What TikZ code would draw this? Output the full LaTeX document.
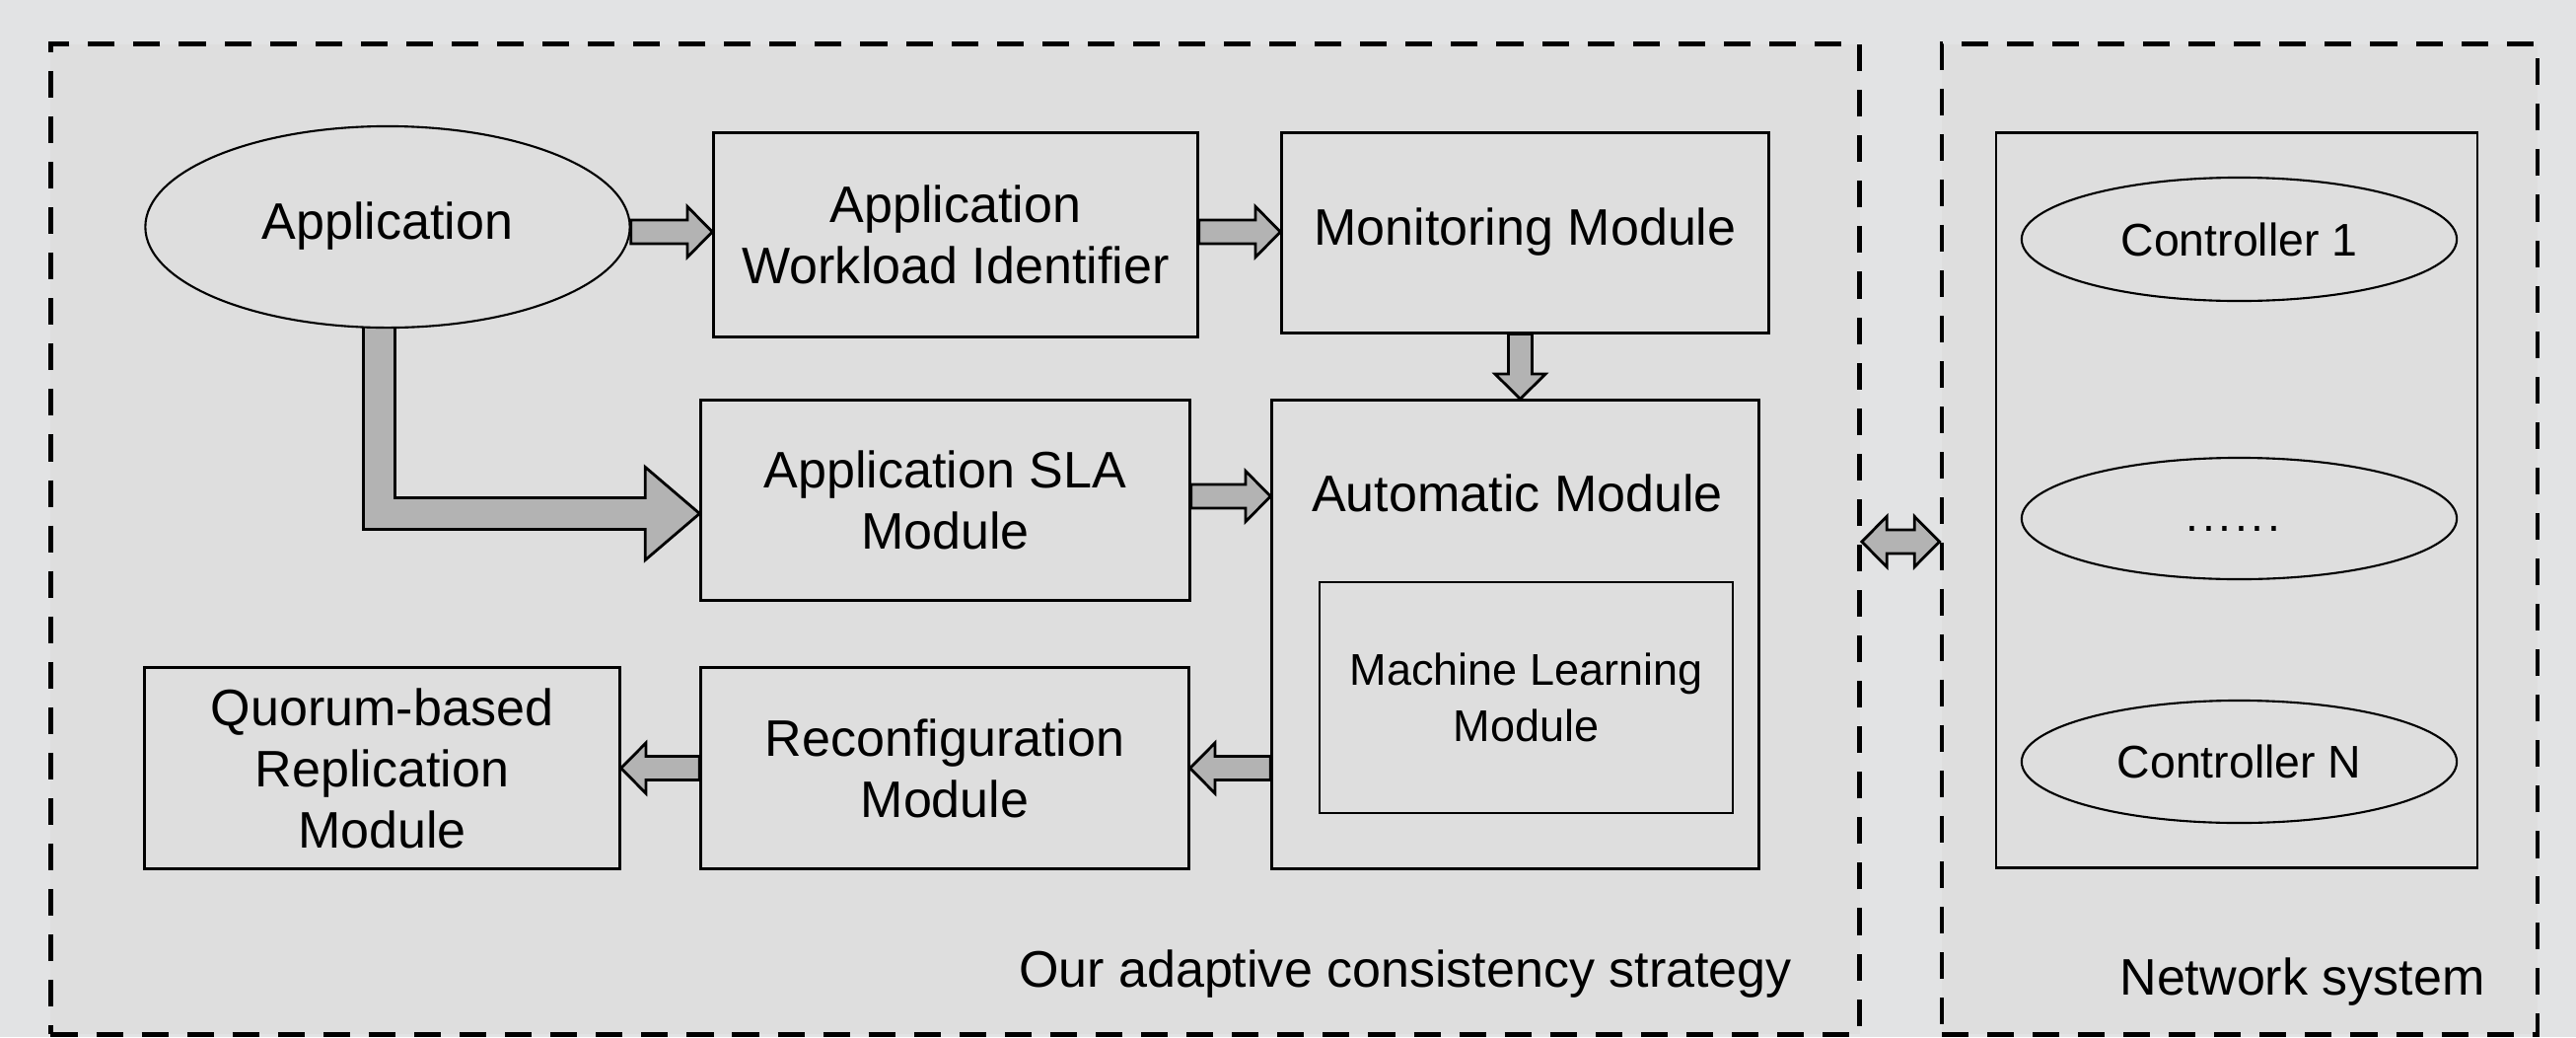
\documentclass[tikz,border=0pt]{standalone}
\usepackage{fontspec}
\setmainfont{Liberation Sans}
\usetikzlibrary{calc,shapes.geometric}

\definecolor{pagegray}{HTML}{E2E3E4}
\definecolor{panelgray}{HTML}{DEDEDE}
\definecolor{arrowgray}{HTML}{B3B3B3}

\pgfdeclarelayer{framelayer}
\pgfdeclarelayer{arrowlayer}
\pgfsetlayers{framelayer,arrowlayer,main}

% text sizes
\newcommand\mainsize{\fontsize{14.8pt}{17.6pt}\selectfont}
\newcommand\mlsize{\fontsize{12.8pt}{16.2pt}\selectfont}
\newcommand\ctrlsize{\fontsize{13.2pt}{16pt}\selectfont}

% block arrow dimensions: shaft half width, head half width, head length
\newcommand\bsw{3.41pt}
\newcommand\bhw{7.26pt}
\newcommand\bhl{7.2pt}
\newcommand\Lsw{4.55pt}
\newcommand\Lhw{13.37pt}
\newcommand\Lhl{15.65pt}

% horizontal block arrows: #1 tail, #2 tip; height is the mean of both
\newcommand\arrowright[2]{%
  \draw[blockarrow] let \p1=#1, \p2=#2, \p3=($#1!.5!#2$) in
    (\x1,\y3+\bsw) -- (\x2-\bhl,\y3+\bsw) -- (\x2-\bhl,\y3+\bhw) -- (\x2,\y3)
    -- (\x2-\bhl,\y3-\bhw) -- (\x2-\bhl,\y3-\bsw) -- (\x1,\y3-\bsw) -- cycle;}
\newcommand\arrowleft[2]{%
  \draw[blockarrow] let \p1=#1, \p2=#2, \p3=($#1!.5!#2$) in
    (\x1,\y3+\bsw) -- (\x2+\bhl,\y3+\bsw) -- (\x2+\bhl,\y3+\bhw) -- (\x2,\y3)
    -- (\x2+\bhl,\y3-\bhw) -- (\x2+\bhl,\y3-\bsw) -- (\x1,\y3-\bsw) -- cycle;}
% vertical block arrow pointing down
\newcommand\arrowdown[2]{%
  \draw[blockarrow] let \p1=#1, \p2=#2, \p3=($#1!.5!#2$) in
    (\x3-\bsw,\y1) -- (\x3-\bsw,\y2+\bhl) -- (\x3-\bhw,\y2+\bhl) -- (\x3,\y2)
    -- (\x3+\bhw,\y2+\bhl) -- (\x3+\bsw,\y2+\bhl) -- (\x3+\bsw,\y1) -- cycle;}

\begin{document}
\begin{tikzpicture}[x=0.01cm,y=-0.01cm,
  module/.style={draw, line width=0.85pt, fill=panelgray, inner sep=0pt,
    align=center, font=\mainsize},
  oval/.style={ellipse, draw, line width=0.6pt, fill=panelgray, inner sep=0pt},
  frame/.style={draw, line width=1.3pt, dash pattern=on 7.7pt off 5.4pt,
    fill=panelgray, inner sep=0pt},
  blockarrow/.style={draw, line width=0.8pt, fill=arrowgray, line join=miter},
  capcentred/.style={text height=0.716em, text depth=0pt},
  caption/.style={anchor=base, font=\mainsize, inner sep=0pt}]

\useasboundingbox (0,0) rectangle (2612,1051);

% dashed frames on the bottom layer
\begin{pgfonlayer}{framelayer}
  \fill[pagegray] (0,0) rectangle (2612,1051);
  \node[frame, minimum width=18.33cm, minimum height=10.03cm] (strategy) at (968.5,546.5) {};
  \node[frame, minimum width=6.04cm, minimum height=10.03cm] (netsys) at (2271,546.5) {};
\end{pgfonlayer}

% adaptive consistency strategy modules
\node[oval, capcentred, font=\mainsize, minimum width=4.91cm, minimum height=2.04cm] (app) at (393,230) {Application};
\node[module, minimum width=4.90cm, minimum height=2.06cm] (awi) at (969,238) {Application\\Workload Identifier};
\node[module, capcentred, minimum width=4.93cm, minimum height=2.02cm] (mon) at (1546.5,236) {Monitoring Module};
\node[module, minimum width=4.95cm, minimum height=2.02cm] (sla) at (958.5,507) {Application SLA\\Module};
\node[module, minimum width=4.93cm, minimum height=4.74cm] (auto) at (1536.5,643) {};
\node[caption] (autolabel) at (1538.5,518) {Automatic Module};
\node[module, font=\mlsize, line width=0.75pt, minimum width=4.19cm, minimum height=2.34cm] (ml) at (1547.5,707) {Machine Learning\\Module};
\node[module, minimum width=4.94cm, minimum height=2.03cm] (reconf) at (958,778.5) {Reconfiguration\\Module};
\node[module, minimum width=4.81cm, minimum height=2.03cm] (quorum) at (387.5,778.5) {Quorum-based\\Replication\\Module};
\node[caption] (stratlabel) at (1425,1000) {Our adaptive consistency strategy};

% network system
\node[module, line width=0.75pt, minimum width=4.88cm, minimum height=7.44cm] (ctrlbox) at (2268,507) {};
\node[oval, font=\ctrlsize, minimum width=4.41cm, minimum height=1.25cm] (c1) at (2270.5,242.5) {Controller 1};
\node[oval, minimum width=4.41cm, minimum height=1.23cm] (cdots) at (2270.5,525.5) {};
\node[anchor=base, font=\ctrlsize, inner sep=0pt] (dots) at (2264.5,538)
  {.\kern1.05pt.\kern1.05pt.\kern1.05pt.\kern1.05pt.\kern1.05pt.};
\node[oval, font=\ctrlsize, minimum width=4.41cm, minimum height=1.24cm] (cN) at (2270.5,772) {Controller N};
\node[caption] (netlabel) at (2334.5,1008) {Network system};

% block arrows between the modules
\coordinate (toprow) at (0,235);
\coordinate (slaout) at ($(sla.east)+(0,-4)$);
\coordinate (bend) at (384.5,520.5);
\coordinate (link) at (1927,549);
\begin{pgfonlayer}{arrowlayer}
  \arrowright{(app.east |- toprow)}{(awi.west |- toprow)}
  \arrowright{(awi.east |- toprow)}{(mon.west |- toprow)}
  \arrowright{(slaout)}{(auto.west |- slaout)}
  \arrowdown{(mon.south)}{(auto.north)}
  \arrowleft{(auto.west |- reconf.east)}{(reconf.east)}
  \arrowleft{(reconf.west)}{(quorum.east)}
  % bent arrow from the application down to the SLA module
  \draw[blockarrow] let \p1=(bend), \p2=(sla.west |- bend), \p3=(app.south) in
    (\x1-\Lsw,\y3+5pt) -- (\x1-\Lsw,\y1-\Lsw) -- (\x2-\Lhl,\y1-\Lsw)
    -- (\x2-\Lhl,\y1-\Lhw) -- (\x2,\y1) -- (\x2-\Lhl,\y1+\Lhw)
    -- (\x2-\Lhl,\y1+\Lsw) -- (\x1+\Lsw,\y1+\Lsw) -- (\x1+\Lsw,\y3+5pt) -- cycle;
  % two-way link between the strategy and the network system
  \draw[blockarrow] let \p1=(strategy.east |- link), \p2=(netsys.west |- link) in
    (\x1,\y1) -- (\x1+\bhl,\y1+\bhw) -- (\x1+\bhl,\y1+\bsw) -- (\x2-\bhl,\y1+\bsw)
    -- (\x2-\bhl,\y1+\bhw) -- (\x2,\y1) -- (\x2-\bhl,\y1-\bhw) -- (\x2-\bhl,\y1-\bsw)
    -- (\x1+\bhl,\y1-\bsw) -- (\x1+\bhl,\y1-\bhw) -- cycle;
\end{pgfonlayer}
\end{tikzpicture}
\end{document}
